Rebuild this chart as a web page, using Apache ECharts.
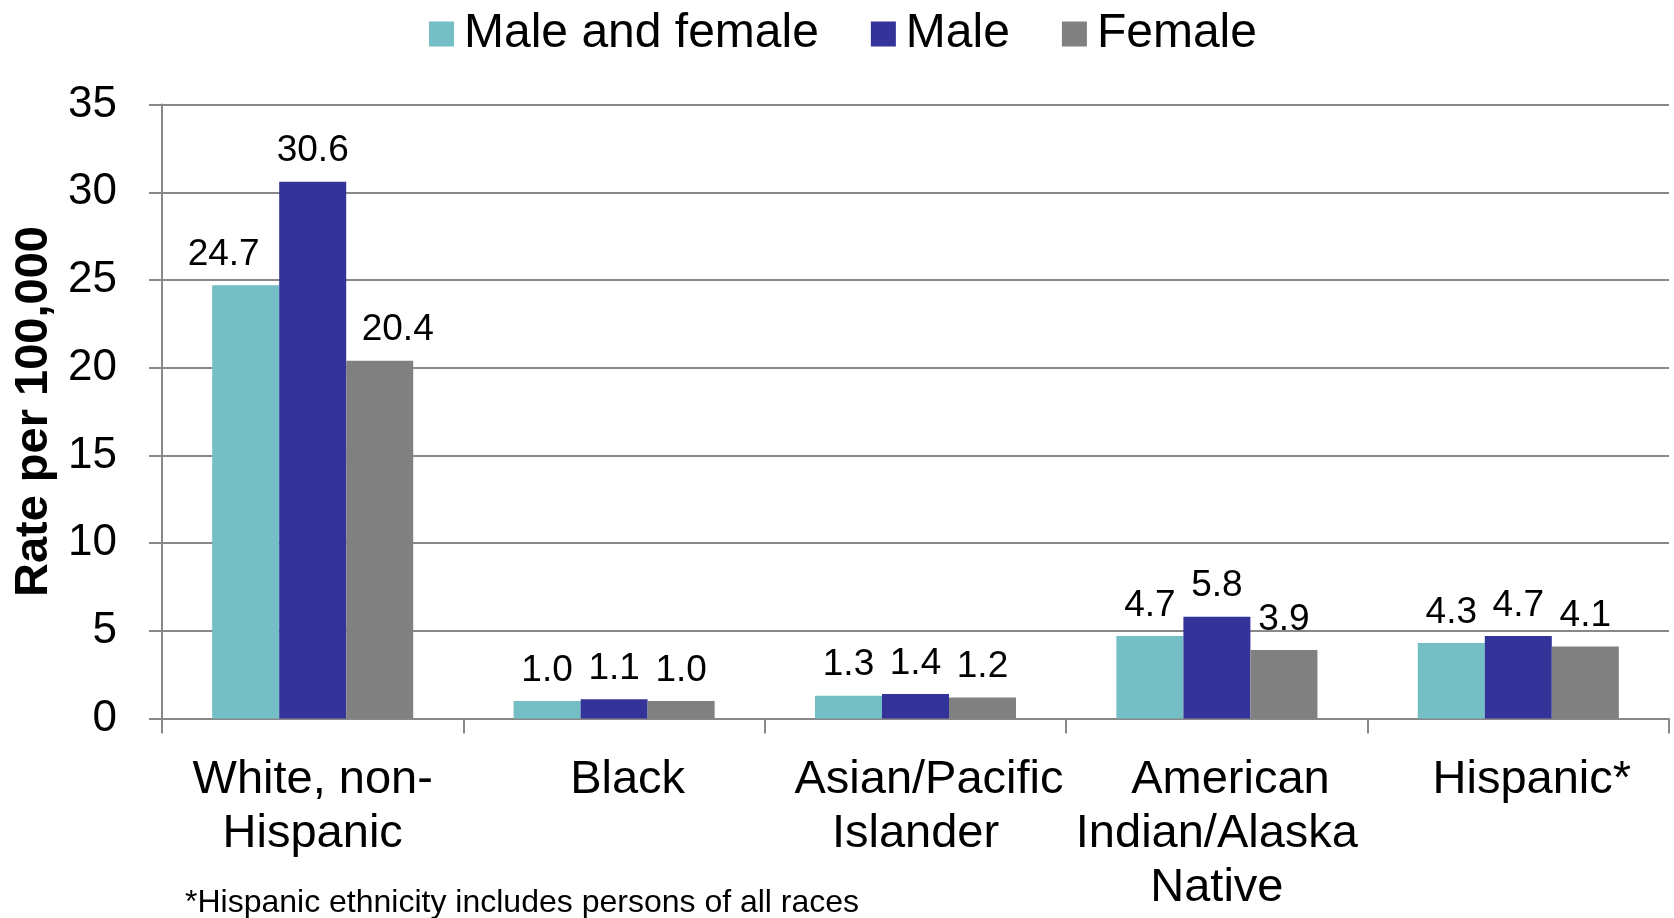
<!DOCTYPE html>
<html>
<head>
<meta charset="utf-8">
<script src="https://cdn.jsdelivr.net/npm/echarts@6/dist/echarts.min.js"></script>
<style>
html,body{margin:0;padding:0;background:#fff;}
#chart{width:1674px;height:918px;}
</style>
</head>
<body>
<div id="chart"></div>
<script>
const categories = ["White, non-\nHispanic", "Black", "Asian/Pacific\nIslander", "American\nIndian/Alaska\nNative", "Hispanic*"];
const seriesNames = ["Male and female", "Male", "Female"];
const maleAndFemale = [24.7, 1.0, 1.3, 4.7, 4.3];
const male = [30.6, 1.1, 1.4, 5.8, 4.7];
const female = [20.4, 1.0, 1.2, 3.9, 4.1];
const yTicks = [0, 5, 10, 15, 20, 25, 30, 35];
const yAxisTitle = "Rate per 100,000";
const footnote = "*Hispanic ethnicity includes persons of all races";

const colors = ["#73bfc5", "#333399", "#808080"];
const FONT = "'Liberation Sans', Arial, sans-serif";
const allValues = [maleAndFemale, male, female];
// label nudges for the first group only (avoid overlap as in reference)
const firstGroupOffsets = [[-22, 0], [0, 0], [18, 0]];

const chart = echarts.init(document.getElementById('chart'));
const option = {
  animation: false,
  backgroundColor: '#fff',
  color: colors,
  legend: {
    data: seriesNames,
    left: 424,
    top: 5,
    itemWidth: 25,
    itemHeight: 25,
    itemGap: 52,
    icon: 'rect',
    textStyle: { fontFamily: FONT, fontSize: 48, color: '#000', padding: [0, 0, 0, 5] }
  },
  grid: { left: 162, right: 5, top: 104.6, bottom: 199.5, containLabel: false },
  xAxis: {
    type: 'category',
    data: categories,
    axisLine: { lineStyle: { color: '#888', width: 2 } },
    axisTick: { show: true, length: 15, lineStyle: { color: '#888', width: 2 }, alignWithLabel: false },
    axisLabel: {
      interval: 0, margin: 35, fontFamily: FONT, fontSize: 47, lineHeight: 54, color: '#000',
      formatter: function (value) {
        const lines = value.split('\n');
        if (!/-$/.test(lines[0])) lines[0] = '{s|' + lines[0] + '}';
        return lines.join('\n');
      },
      rich: {
        s: { padding: [0, 0, 0, 27], fontFamily: FONT, fontSize: 47, lineHeight: 54, color: '#000' }
      }
    }
  },
  yAxis: {
    type: 'value',
    min: yTicks[0],
    max: yTicks[yTicks.length - 1],
    interval: yTicks[1] - yTicks[0],
    name: yAxisTitle,
    nameLocation: 'middle',
    nameGap: 102,
    nameTextStyle: { fontFamily: FONT, fontSize: 47, fontWeight: 'bold', color: '#000' },
    axisLine: { show: true, lineStyle: { color: '#888', width: 2 } },
    axisTick: { show: true, length: 13, lineStyle: { color: '#888', width: 2 } },
    axisLabel: { margin: 45, fontFamily: FONT, fontSize: 44, color: '#000' },
    splitLine: { show: true, lineStyle: { color: '#888', width: 2 } }
  },
  series: seriesNames.map((name, s) => ({
    name: name,
    type: 'bar',
    barGap: '0%',
    barCategoryGap: '33.3%',
    itemStyle: { color: colors[s] },
    label: {
      show: true,
      position: 'top',
      distance: 12,
      fontFamily: FONT,
      fontSize: 37,
      color: '#000',
      formatter: p => p.value.toFixed(1)
    },
    data: allValues[s].map((v, i) => i === 0 ? { value: v, label: { offset: firstGroupOffsets[s] } } : v)
  })),
  graphic: [{
    type: 'text',
    left: 185,
    top: 887,
    style: { text: footnote, fontFamily: FONT, fontSize: 32, fill: '#000' }
  }]
};
chart.setOption(option);
</script>
</body>
</html>
